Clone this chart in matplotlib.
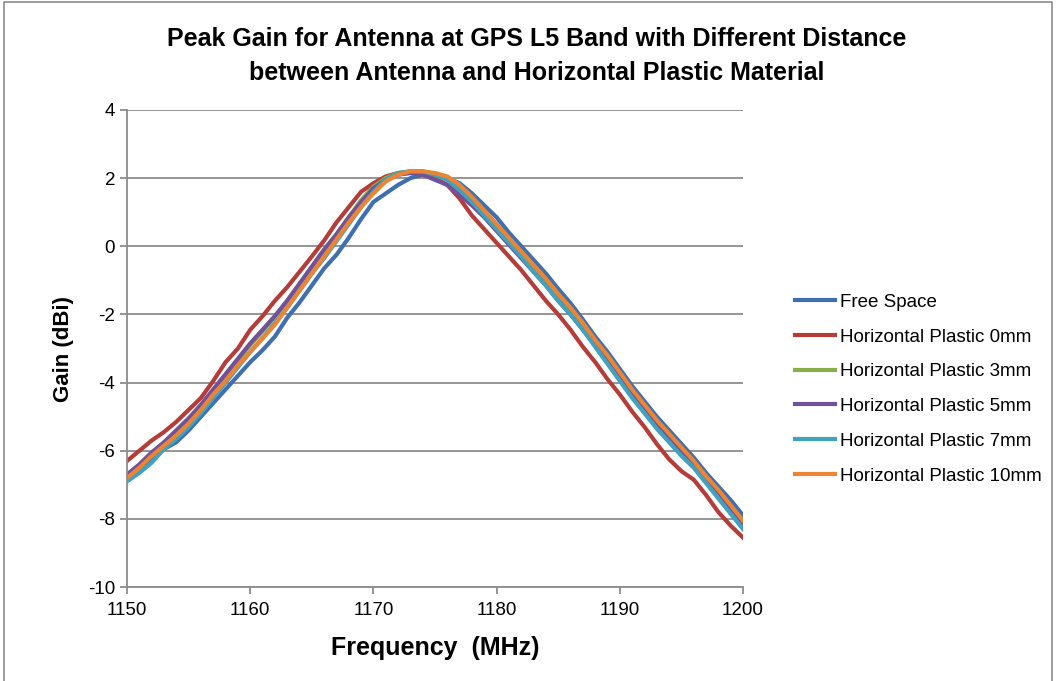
import matplotlib.pyplot as plt
from matplotlib.lines import Line2D

# 频率 (MHz)
freq = list(range(1150, 1201))

free_space = [-6.85, -6.55, -6.25, -5.95, -5.75, -5.4, -5.0, -4.6, -4.2, -3.8,
              -3.4, -3.05, -2.65, -2.1, -1.65, -1.15, -0.65, -0.25, 0.25, 0.8,
              1.3, 1.55, 1.8, 2.0, 2.1, 2.1, 2.0, 1.85, 1.55, 1.2,
              0.85, 0.4, 0.0, -0.4, -0.8, -1.25, -1.67, -2.15, -2.65, -3.1,
              -3.6, -4.1, -4.55, -5.0, -5.4, -5.8, -6.2, -6.65, -7.05, -7.45, -7.9]
plastic_0 = [-6.3, -6.0, -5.7, -5.45, -5.15, -4.8, -4.45, -3.95, -3.4, -3.0,
             -2.45, -2.05, -1.6, -1.2, -0.75, -0.3, 0.17, 0.7, 1.15, 1.6,
             1.85, 2.05, 2.15, 2.15, 2.1, 2.0, 1.8, 1.4, 0.9, 0.5,
             0.1, -0.3, -0.7, -1.15, -1.6, -2.0, -2.45, -2.95, -3.4, -3.9,
             -4.35, -4.85, -5.3, -5.8, -6.25, -6.6, -6.85, -7.3, -7.8, -8.2, -8.55]
plastic_3 = [-6.75, -6.45, -6.1, -5.8, -5.45, -5.1, -4.7, -4.25, -3.8, -3.35,
             -2.9, -2.5, -2.05, -1.6, -1.1, -0.6, -0.1, 0.35, 0.85, 1.35,
             1.75, 2.0, 2.15, 2.2, 2.2, 2.1, 1.95, 1.65, 1.3, 0.9,
             0.5, 0.1, -0.3, -0.7, -1.1, -1.55, -1.95, -2.4, -2.9, -3.35,
             -3.85, -4.35, -4.8, -5.25, -5.65, -6.05, -6.45, -6.9, -7.3, -7.75, -8.2]
plastic_5 = [-6.7, -6.4, -6.05, -5.75, -5.4, -5.05, -4.65, -4.2, -3.75, -3.3,
             -2.85, -2.45, -2.05, -1.6, -1.1, -0.6, -0.1, 0.35, 0.85, 1.3,
             1.7, 1.95, 2.1, 2.15, 2.1, 1.95, 1.8, 1.5, 1.2, 0.85,
             0.45, 0.05, -0.35, -0.75, -1.15, -1.6, -2.0, -2.45, -2.9, -3.4,
             -3.85, -4.35, -4.8, -5.25, -5.65, -6.05, -6.45, -6.9, -7.3, -7.75, -8.2]
plastic_7 = [-6.9, -6.65, -6.35, -5.95, -5.65, -5.3, -4.9, -4.45, -4.0, -3.55,
             -3.1, -2.7, -2.25, -1.8, -1.3, -0.8, -0.35, 0.15, 0.65, 1.15,
             1.6, 1.95, 2.15, 2.2, 2.2, 2.1, 1.95, 1.65, 1.3, 0.9,
             0.5, 0.1, -0.3, -0.75, -1.15, -1.6, -2.0, -2.45, -2.95, -3.45,
             -3.95, -4.45, -4.9, -5.35, -5.75, -6.15, -6.5, -6.95, -7.4, -7.85, -8.3]
plastic_10 = [-6.8, -6.5, -6.15, -5.85, -5.55, -5.2, -4.8, -4.35, -3.95, -3.5,
              -3.1, -2.7, -2.3, -1.8, -1.3, -0.8, -0.3, 0.2, 0.7, 1.15,
              1.55, 1.9, 2.1, 2.2, 2.2, 2.15, 2.05, 1.8, 1.45, 1.05,
              0.65, 0.25, -0.15, -0.55, -0.95, -1.4, -1.8, -2.25, -2.75, -3.2,
              -3.7, -4.2, -4.65, -5.1, -5.5, -5.9, -6.3, -6.75, -7.15, -7.6, -8.05]

series = [free_space, plastic_0, plastic_3, plastic_5, plastic_7, plastic_10]
labels = ['Free Space', 'Horizontal Plastic 0mm', 'Horizontal Plastic 3mm',
          'Horizontal Plastic 5mm', 'Horizontal Plastic 7mm', 'Horizontal Plastic 10mm']
colors = ['#3F6FB0', '#B43D39', '#8AAE4C', '#71529A', '#40A2BE', '#EC8533']

x_ticks = [1150, 1160, 1170, 1180, 1190, 1200]
y_ticks = [4, 2, 0, -2, -4, -6, -8, -10]

plt.rcParams['font.family'] = ['Liberation Sans', 'DejaVu Sans']
plt.rcParams['axes.unicode_minus'] = False

fig = plt.figure(figsize=(10.56, 6.81), dpi=100)
ax = fig.add_axes([0.1203, 0.138, 0.5833, 0.7005])

for y, lab, c in zip(series, labels, colors):
    ax.plot(freq, y, color=c, linewidth=3.0, label=lab, solid_joinstyle='round')

ax.set_xlim(1150, 1200)
ax.set_ylim(-10, 4)
ax.set_xticks(x_ticks)
ax.set_yticks(y_ticks)
ax.grid(axis='y', color='#8c8c8c', linewidth=1.3)
ax.set_axisbelow(True)

for s in ['top', 'right']:
    ax.spines[s].set_visible(False)
for s in ['left', 'bottom']:
    ax.spines[s].set_color('#8c8c8c')
    ax.spines[s].set_linewidth(1.3)
ax.tick_params(colors='#8c8c8c', labelcolor='black', labelsize=13.5, length=5, width=1.3)
ax.tick_params(axis='x', pad=6)

ax.set_xlabel('Frequency  (MHz)', fontsize=18, fontweight='bold', labelpad=12)
ax.set_ylabel('Gain (dBi)', fontsize=16, fontweight='bold', labelpad=10)

fig.text(0.508, 0.942, 'Peak Gain for Antenna at GPS L5 Band with Different Distance',
         ha='center', va='center', fontsize=18, fontweight='bold')
fig.text(0.508, 0.893, 'between Antenna and Horizontal Plastic Material',
         ha='center', va='center', fontsize=18, fontweight='bold')

ax.legend(loc='upper left', bbox_to_anchor=(1.084, 0.615), frameon=False,
          fontsize=13.5, handlelength=2.13, handletextpad=0.27, labelspacing=0.94,
          borderaxespad=0, borderpad=0)

# 外框
fig.add_artist(Line2D([0.004, 0.004, 0.996, 0.996], [0.0, 0.997, 0.997, 0.0],
                      transform=fig.transFigure, color='#8c8c8c', linewidth=1.2))

fig.savefig('out.png', dpi=100)
